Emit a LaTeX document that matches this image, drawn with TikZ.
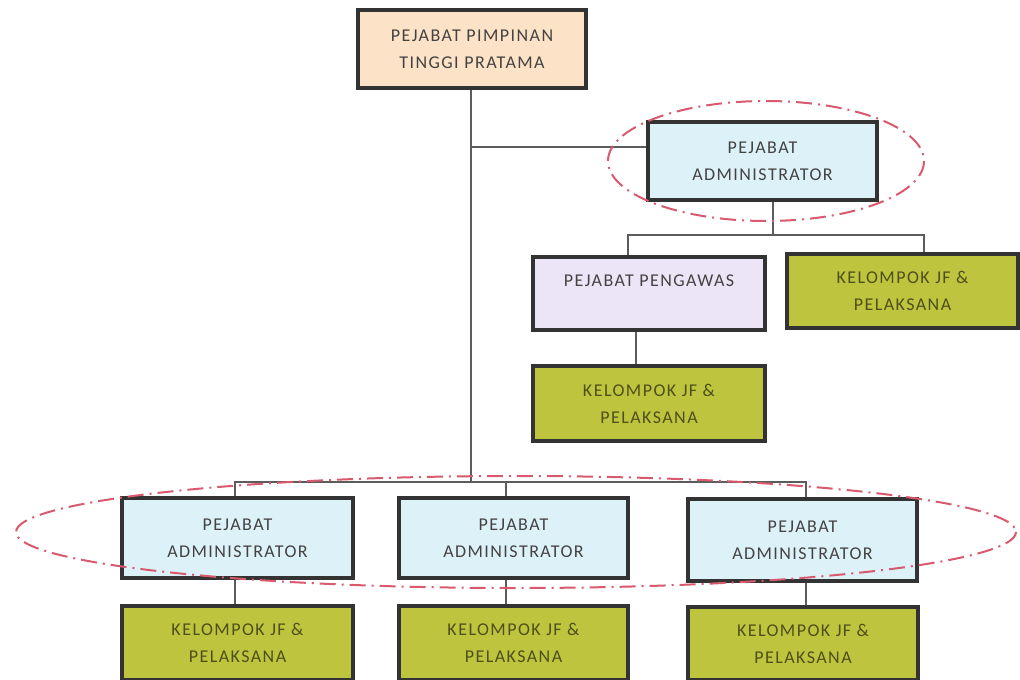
\documentclass[tikz,border=0pt]{standalone}
\usepackage{fontspec}
\setmainfont{Carlito}[LetterSpace=8]
\definecolor{peach}{HTML}{FCE2C6}
\definecolor{lblue}{HTML}{DDF2F8}
\definecolor{lav}{HTML}{ECE4F7}
\definecolor{olive}{HTML}{BEC43E}
\definecolor{txt}{HTML}{444242}
\definecolor{otxt}{HTML}{4F4F1A}
\definecolor{bord}{HTML}{333333}
\definecolor{ell}{HTML}{D95A6E}
\begin{document}
\begin{tikzpicture}[x=1pt,y=-1pt,
  box/.style={draw=bord,line width=3.5pt,align=center,inner sep=0pt,
    font=\fontsize{18}{27}\selectfont,text=txt},
  kjf/.style={box,fill=olive,text=otxt},
  conn/.style={draw=bord!80,line width=1.2pt},
  oval/.style={draw=ell,line width=2pt,dash pattern=on 16pt off 6pt on 2pt off 6pt}]
\useasboundingbox (0,0) rectangle (1020,680);
\fill[white] (0,0) rectangle (1020,680);
\node[box,fill=peach,minimum width=228pt,minimum height=78pt] (top) at (472,49) {PEJABAT PIMPINAN\\TINGGI PRATAMA};
\node[box,fill=lblue,minimum width=229pt,minimum height=78pt] (adm) at (762.5,161) {PEJABAT\\ADMINISTRATOR};
\node[box,fill=lav,minimum width=232pt,minimum height=73pt] (peng) at (649,293.5) {};
\node[text=txt,font=\fontsize{18}{27}\selectfont] (pengt) at (649,281) {PEJABAT PENGAWAS};
\node[kjf,minimum width=231pt,minimum height=74pt] (k1) at (902.5,291) {KELOMPOK JF \&\\PELAKSANA};
\node[kjf,minimum width=232pt,minimum height=75pt] (k2) at (649,403.5) {KELOMPOK JF \&\\PELAKSANA};
\node[box,fill=lblue,minimum width=231pt,minimum height=80pt] (a1) at (237.5,538) {PEJABAT\\ADMINISTRATOR};
\node[box,fill=lblue,minimum width=229pt,minimum height=80pt] (a2) at (513.5,538) {PEJABAT\\ADMINISTRATOR};
\node[box,fill=lblue,minimum width=229pt,minimum height=82pt] (a3) at (802.5,540) {PEJABAT\\ADMINISTRATOR};
\node[kjf,minimum width=231pt,minimum height=74pt] (b1) at (237.5,643) {KELOMPOK JF \&\\PELAKSANA};
\node[kjf,minimum width=229pt,minimum height=74pt] (b2) at (513.5,643) {KELOMPOK JF \&\\PELAKSANA};
\node[kjf,minimum width=230pt,minimum height=73pt] (b3) at (803,643.5) {KELOMPOK JF \&\\PELAKSANA};
\coordinate (j1) at (471,147);
\coordinate (j2) at (471,482);
\coordinate (j3) at (773,235);
% connectors
\draw[conn] (top.south -| j1) -- (j2);
\draw[conn] (j1) -- (adm.west |- j1);
\draw[conn] (adm.south -| j3) -- (j3);
\draw[conn] (peng.north -| 628,0) |- (j3) -| (k1.north -| 924,0);
\draw[conn] (peng.south -| 636,0) -- (k2.north -| 636,0);
\draw[conn] (a1.north -| 235,0) |- (j2) -| (a3.north -| 806,0);
\draw[conn] (j2 -| 506,0) -- (a2.north -| 506,0);
\draw[conn] (a1.south -| 235,0) -- (b1.north -| 235,0);
\draw[conn] (a2.south -| 506,0) -- (b2.north -| 506,0);
\draw[conn] (a3.south -| 806,0) -- (b3.north -| 806,0);
% ovals
\draw[oval] (766,161) ellipse [x radius=158,y radius=60];
\draw[oval] (516,532) ellipse [x radius=500,y radius=56];
\end{tikzpicture}
\end{document}
